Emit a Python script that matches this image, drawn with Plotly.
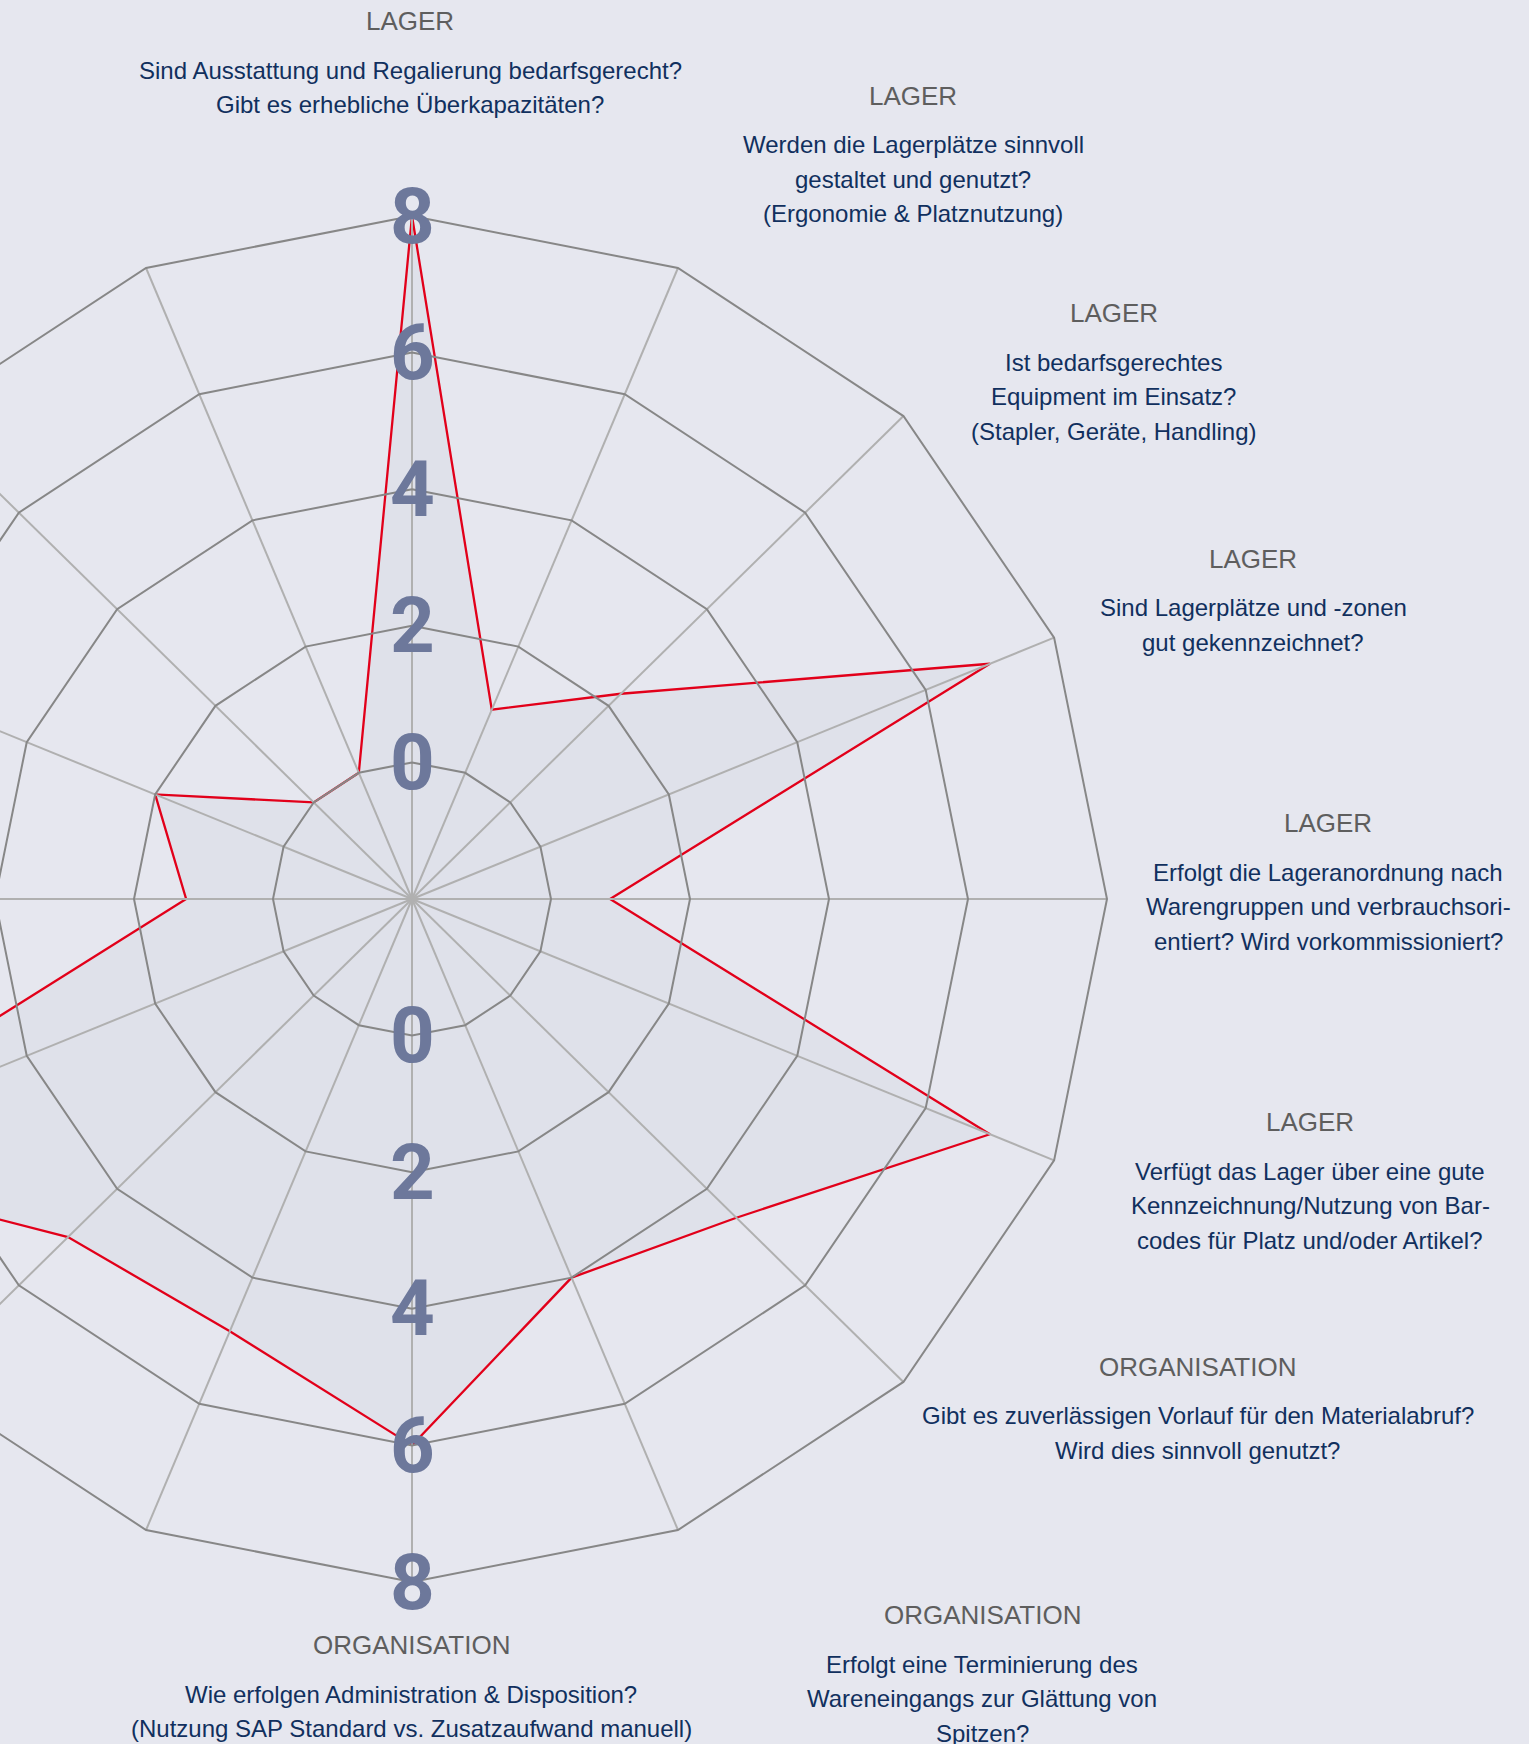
import numpy as np
import plotly.graph_objects as go

# ---------------- data ----------------
groups = ["LAGER", "LAGER", "LAGER", "LAGER", "LAGER", "LAGER",
          "ORGANISATION", "ORGANISATION", "ORGANISATION",
          "", "", "", "", "", "", ""]
questions = [
    "Sind Ausstattung und Regalierung bedarfsgerecht?<br>Gibt es erhebliche Überkapazitäten?",
    "Werden die Lagerplätze sinnvoll<br>gestaltet und genutzt?<br>(Ergonomie & Platznutzung)",
    "Ist bedarfsgerechtes<br>Equipment im Einsatz?<br>(Stapler, Geräte, Handling)",
    "Sind Lagerplätze und -zonen<br>gut gekennzeichnet?",
    "Erfolgt die Lageranordnung nach<br>Warengruppen und verbrauchsori-<br>entiert? Wird vorkommissioniert?",
    "Verfügt das Lager über eine gute<br>Kennzeichnung/Nutzung von Bar-<br>codes für Platz und/oder Artikel?",
    "Gibt es zuverlässigen Vorlauf für den Materialabruf?<br>Wird dies sinnvoll genutzt?",
    "Erfolgt eine Terminierung des<br>Wareneingangs zur Glättung von<br>Spitzen?",
    "Wie erfolgen Administration & Disposition?<br>(Nutzung SAP Standard vs. Zusatzaufwand manuell)",
    "", "", "", "", "", "", "",   # labels of the left half lie outside the visible area
]
values = [8, 1, 2.25, 7, 0.85, 7, 4.6, 4, 6, 4.85, 5, 8, 1.25, 2, 0, 0]
tick_values = [0, 2, 4, 6, 8]
tick_labels = ["0", "2", "4", "6", "8"]

# ---------------- layout / style ----------------
R_MIN, R_MAX = -2, 8
W, H = 1529, 1744
PX_X, PX_Y = 69.5, 68.3        # pixels per radial unit (horizontal / vertical)
CX, CY = 412, 899              # pixel position of the chart centre
BG = "#e6e7ef"
FILL = "#dfe1ea"
RED = "#e2001a"
RING = "#878787"
SPOKE = "#b0b0b0"
TICK_COLOR = "#6d789b"
GROUP_COLOR = "#5e5e5e"
Q_COLOR = "#11305e"
LABEL_FONT = "Arial, Liberation Sans, sans-serif"
LABEL_RADIUS_PX = 690
# label placement relative to a point at LABEL_RADIUS_PX on each spoke (pixels)
LABEL_SHIFT = [(-2, 188), (237, 166), (214, 98), (204, 76), (226, 76),
               (261, 41), (298, 20), (306, -79), (-1, -56),
               (-306, -79), (-298, 20), (-261, 41), (-226, 76),
               (-204, 76), (-214, 98), (-237, 166)]
GROUP_GAP = 49
LINE_GAP = 34.5
TICK_YSHIFT = 0

n = len(values)
theta = np.deg2rad(90 - 360.0 * np.arange(n) / n)   # clockwise from the top


def to_xy(r, th):
    d = np.asarray(r, dtype=float) - R_MIN
    return d * np.cos(th), d * np.sin(th)


fig = go.Figure()

# data polygon
vx, vy = to_xy(values, theta)
fig.add_trace(go.Scatter(
    x=list(vx) + [vx[0]], y=list(vy) + [vy[0]],
    mode="lines", fill="toself", fillcolor=FILL,
    line=dict(color=RED, width=2.3), hoverinfo="skip"))

# spokes
sx, sy = [], []
for th in theta:
    x0, y0 = to_xy(R_MIN, th)
    x1, y1 = to_xy(R_MAX, th)
    sx += [x0, x1, None]
    sy += [y0, y1, None]
fig.add_trace(go.Scatter(x=sx, y=sy, mode="lines",
                         line=dict(color=SPOKE, width=2), hoverinfo="skip"))

# rings
rx, ry = [], []
for tv in tick_values:
    xs, ys = to_xy([tv] * n, theta)
    rx += list(xs) + [xs[0], None]
    ry += list(ys) + [ys[0], None]
fig.add_trace(go.Scatter(x=rx, y=ry, mode="lines",
                         line=dict(color=RING, width=2), hoverinfo="skip"))

annotations = []

# radial tick labels on the top and bottom spokes
for idx in (0, n // 2):
    tx, ty = to_xy(tick_values, theta[idx])
    for x_, y_, lab in zip(tx, ty, tick_labels):
        annotations.append(dict(
            x=float(x_), y=float(y_), xref="x", yref="y", text=lab,
            showarrow=False, xanchor="center", yanchor="middle",
            yshift=TICK_YSHIFT,
            font=dict(family="Roboto", size=78, color=TICK_COLOR, weight=700)))

# category labels
for i in range(n):
    if not questions[i]:
        continue
    ox = LABEL_RADIUS_PX * np.cos(theta[i]) / PX_X
    oy = LABEL_RADIUS_PX * np.sin(theta[i]) / PX_Y
    xs_, ys_ = LABEL_SHIFT[i]
    if groups[i]:
        annotations.append(dict(
            x=float(ox), y=float(oy), xref="x", yref="y", text=groups[i],
            showarrow=False, xanchor="center", yanchor="middle",
            xshift=xs_, yshift=ys_,
            font=dict(family=LABEL_FONT, size=26, color=GROUP_COLOR)))
    for j, line in enumerate(questions[i].split("<br>")):
        annotations.append(dict(
            x=float(ox), y=float(oy), xref="x", yref="y", text=line,
            showarrow=False, xanchor="center", yanchor="middle",
            xshift=xs_, yshift=ys_ - GROUP_GAP - LINE_GAP * j,
            font=dict(family=LABEL_FONT, size=24, color=Q_COLOR)))

fig.update_layout(
    width=W, height=H,
    margin=dict(l=0, r=0, t=0, b=0, pad=0),
    paper_bgcolor=BG, plot_bgcolor=BG,
    showlegend=False, hovermode=False,
    annotations=annotations,
    xaxis=dict(visible=False, range=[-CX / PX_X, (W - CX) / PX_X], fixedrange=True),
    yaxis=dict(visible=False, range=[-(H - CY) / PX_Y, CY / PX_Y], fixedrange=True),
)

fig.write_html("out.html", config={"displayModeBar": False},
               post_script="document.body.style.margin='0';document.body.style.overflow='hidden';")
